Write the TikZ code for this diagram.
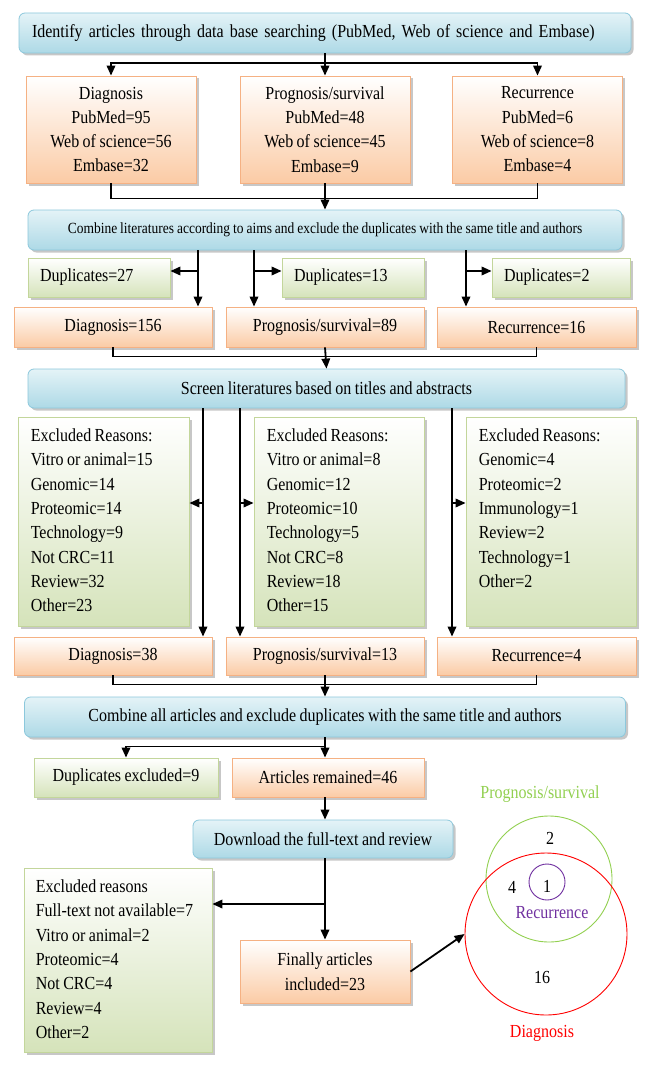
\documentclass[tikz,border=0pt]{standalone}
\usepackage{fontspec}
\setmainfont{Liberation Serif}[FakeStretch=0.87,WordSpace=0.87]
\usetikzlibrary{arrows.meta,shadows}
\definecolor{oB}{HTML}{F5B183}
\definecolor{oF}{HTML}{FBCBA5}
\definecolor{gB}{HTML}{C3D69B}
\definecolor{gF}{HTML}{D5E3BA}
\definecolor{bB}{HTML}{8CC8DC}
\definecolor{bT}{HTML}{E4F3F7}
\definecolor{bF}{HTML}{ADD9E6}
\definecolor{vgreen}{HTML}{92D050}
\definecolor{vpurple}{HTML}{7030A0}
\begin{document}
\begin{tikzpicture}[x=1pt,y=-1pt,
  shd/.style={drop shadow={shadow xshift=2.5pt,shadow yshift=-2.5pt,fill=black,opacity=0.22}},
  obox/.style={shd,draw=oB,line width=0.8pt,top color=white,bottom color=oF,inner sep=0pt,align=center,font=\fontsize{18.4}{24.3}\selectfont},
  gbox/.style={shd,draw=gB,line width=0.8pt,top color=white,bottom color=gF,inner sep=0pt},
  gdup/.style={gbox,inner xsep=12pt,align=left,font=\fontsize{18.4}{22}\selectfont},
  bbox/.style={shd,draw=bB,line width=0.8pt,rounded corners=6pt,top color=bT,bottom color=bF,inner sep=0pt,font=\fontsize{18.4}{22}\selectfont},
  ln/.style={line width=1.8pt},
  arr/.style={ln,-{Triangle[length=10pt,width=8.5pt]}},
  txt/.style={font=\fontsize{18.4}{24.3}\selectfont,inner sep=0pt,align=left,anchor=north west},
  vl/.style={font=\fontsize{18.4}{22}\selectfont,inner sep=0pt},
  venn/.style={circle,draw,line width=0.9pt,inner sep=0pt}
  ]
\useasboundingbox[fill=white] (0,0) rectangle (650,1070);

% ---- level 1
\node[bbox,minimum width=612pt,minimum height=40pt,inner xsep=13pt,text width=586pt,align=left] (top) at (325,33) {Identify articles through data base searching (PubMed, Web of science and Embase)};
\node[obox,minimum width=170pt,minimum height=107pt] (d1) at (111,129.5) {Diagnosis\\PubMed=95\\Web of science=56\\Embase=32};
\node[obox,minimum width=170pt,minimum height=107pt] (p1) at (325,129.5) {Prognosis/survival\\PubMed=48\\Web of science=45\\Embase=9};
\node[obox,minimum width=170pt,minimum height=107pt] (r1) at (537.5,129.5) {Recurrence\\PubMed=6\\Web of science=8\\Embase=4};
\draw[arr] (top.south) -- ++(0,10) -| (d1.north);
\draw[arr] (top.south) -- ++(0,10) -| (r1.north);
\draw[arr] (top.south) -- (p1.north);

% ---- level 2
\node[bbox,minimum width=594pt,minimum height=40pt,font=\fontsize{15.5}{18}\selectfont] (comb) at (325,230) {Combine literatures according to aims and exclude the duplicates with the same title and authors};
\draw[ln] (d1.south) -- ++(0,15) -| (r1.south);
\draw[arr] (p1.south) -- (comb.north);

\node[gdup,minimum width=142pt,minimum height=39pt,text width=118pt] (dup1) at (99,277.5) {Duplicates=27};
\node[gdup,minimum width=142pt,minimum height=39pt,text width=118pt] (dup2) at (353,277.5) {Duplicates=13};
\node[gdup,minimum width=138pt,minimum height=39pt,text width=114pt] (dup3) at (561,277.5) {Duplicates=2};
\node[obox,minimum width=198pt,minimum height=40pt] (d2) at (113,327) {Diagnosis=156};
\node[obox,minimum width=198pt,minimum height=40pt] (p2) at (325,327) {Prognosis/survival=89};
\node[obox,minimum width=199pt,minimum height=40pt] (r2) at (536.5,327) {Recurrence=16};
\coordinate (xa) at (198,271);
\coordinate (xb) at (254,271);
\coordinate (xc) at (466,271);
\draw[arr] (comb.south -| xa) -- (d2.north -| xa);
\draw[arr] (comb.south -| xb) -- (p2.north -| xb);
\draw[arr] (comb.south -| xc) -- (r2.north -| xc);
\draw[arr] (xa) -- (xa -| dup1.east);
\draw[arr] (xb) -- (xb -| dup2.west);
\draw[arr] (xc) -- (xc -| dup3.west);

% ---- level 3
\node[bbox,minimum width=597pt,minimum height=39pt] (scr) at (326.5,388.5) {Screen literatures based on titles and abstracts};
\draw[ln] (d2.south) -- ++(0,9) -| (r2.south);
\draw[arr] (p2.south) -- (scr.north);

\node[gbox,minimum width=171pt,minimum height=209pt] (ex1) at (103.5,521.5) {};
\node[gbox,minimum width=170pt,minimum height=209pt] (ex2) at (339,521.5) {};
\node[gbox,minimum width=170pt,minimum height=209pt] (ex3) at (551,521.5) {};
\node[txt] (ex1t) at ([xshift=13pt,yshift=-12pt]ex1.north west) {Excluded Reasons:\\Vitro or animal=15\\Genomic=14\\Proteomic=14\\Technology=9\\Not CRC=11\\Review=32\\Other=23};
\node[txt] (ex2t) at ([xshift=13pt,yshift=-12pt]ex2.north west) {Excluded Reasons:\\Vitro or animal=8\\Genomic=12\\Proteomic=10\\Technology=5\\Not CRC=8\\Review=18\\Other=15};
\node[txt] (ex3t) at ([xshift=13pt,yshift=-12pt]ex3.north west) {Excluded Reasons:\\Genomic=4\\Proteomic=2\\Immunology=1\\Review=2\\Technology=1\\Other=2};

\node[obox,minimum width=198pt,minimum height=38pt] (d3) at (113,656) {Diagnosis=38};
\node[obox,minimum width=198pt,minimum height=38pt] (p3) at (325,656) {Prognosis/survival=13};
\node[obox,minimum width=199pt,minimum height=38pt] (r3) at (536.5,656) {Recurrence=4};
\coordinate (ya) at (203,503);
\coordinate (yb) at (240,503);
\coordinate (yc) at (452,503);
\draw[arr] (scr.south -| ya) -- (d3.north -| ya);
\draw[arr] (scr.south -| yb) -- (p3.north -| yb);
\draw[arr] (scr.south -| yc) -- (r3.north -| yc);
\draw[arr] (ya) -- (ya -| ex1.east);
\draw[arr] (yb) -- (yb -| ex2.west);
\draw[arr] (yc) -- (yc -| ex3.west);

% ---- level 4
\node[bbox,minimum width=601pt,minimum height=40pt] (all) at (325,717) {Combine all articles and exclude duplicates with the same title and authors};
\draw[ln] (d3.south) -- ++(0,9) -| (r3.south);
\draw[arr] (p3.south) -- (all.north);

\node[gbox,minimum width=184pt,minimum height=39pt,font=\fontsize{18.4}{22}\selectfont] (dupx) at (126,777.5) {Duplicates excluded=9};
\node[obox,minimum width=192pt,minimum height=39pt] (rem) at (328,777.5) {Articles remained=46};
\draw[arr] (all.south) -- ++(0,9) -| (dupx.north);
\draw[arr] (all.south) -- (all.south |- rem.north);

\node[bbox,minimum width=260pt,minimum height=38pt] (dl) at (323,839) {Download the full-text and review};
\coordinate (xm) at (325,904);
\draw[arr] (rem.south -| xm) -- (dl.north -| xm);

\node[gbox,minimum width=188pt,minimum height=184pt] (ex4) at (118,960) {};
\node[txt] (ex4t) at ([xshift=12pt,yshift=-12pt]ex4.north west) {Excluded reasons\\Full-text not available=7\\Vitro or animal=2\\Proteomic=4\\Not CRC=4\\Review=4\\Other=2};
\node[obox,minimum width=170pt,minimum height=63pt,font=\fontsize{18.4}{25}\selectfont] (fin) at (325,971.5) {Finally articles\\included=23};
\draw[arr] (dl.south -| xm) -- (fin.north -| xm);
\draw[arr] (xm) -- (xm -| ex4.east);

% ---- Venn
\node[venn,draw=vgreen,minimum size=126pt] (vP) at (549,879) {};
\node[venn,draw=red,minimum size=162pt] (vD) at (546,934) {};
\node[venn,draw=vpurple,minimum size=36pt] (vR) at (547,882) {};
\node[vl,text=vgreen] (lP) at (540,794) {Prognosis/survival};
\node[vl] (n2) at (550,838) {2};
\node[vl] (n4) at (512,887) {4};
\node[vl] (n1) at (547,886) {1};
\node[vl,text=vpurple] (lR) at (552,913) {Recurrence};
\node[vl] (n16) at (542,977) {16};
\node[vl,text=red] (lD) at (542,1033) {Diagnosis};
\draw[arr] (fin.east) -- (vD.west);
\end{tikzpicture}
\end{document}
